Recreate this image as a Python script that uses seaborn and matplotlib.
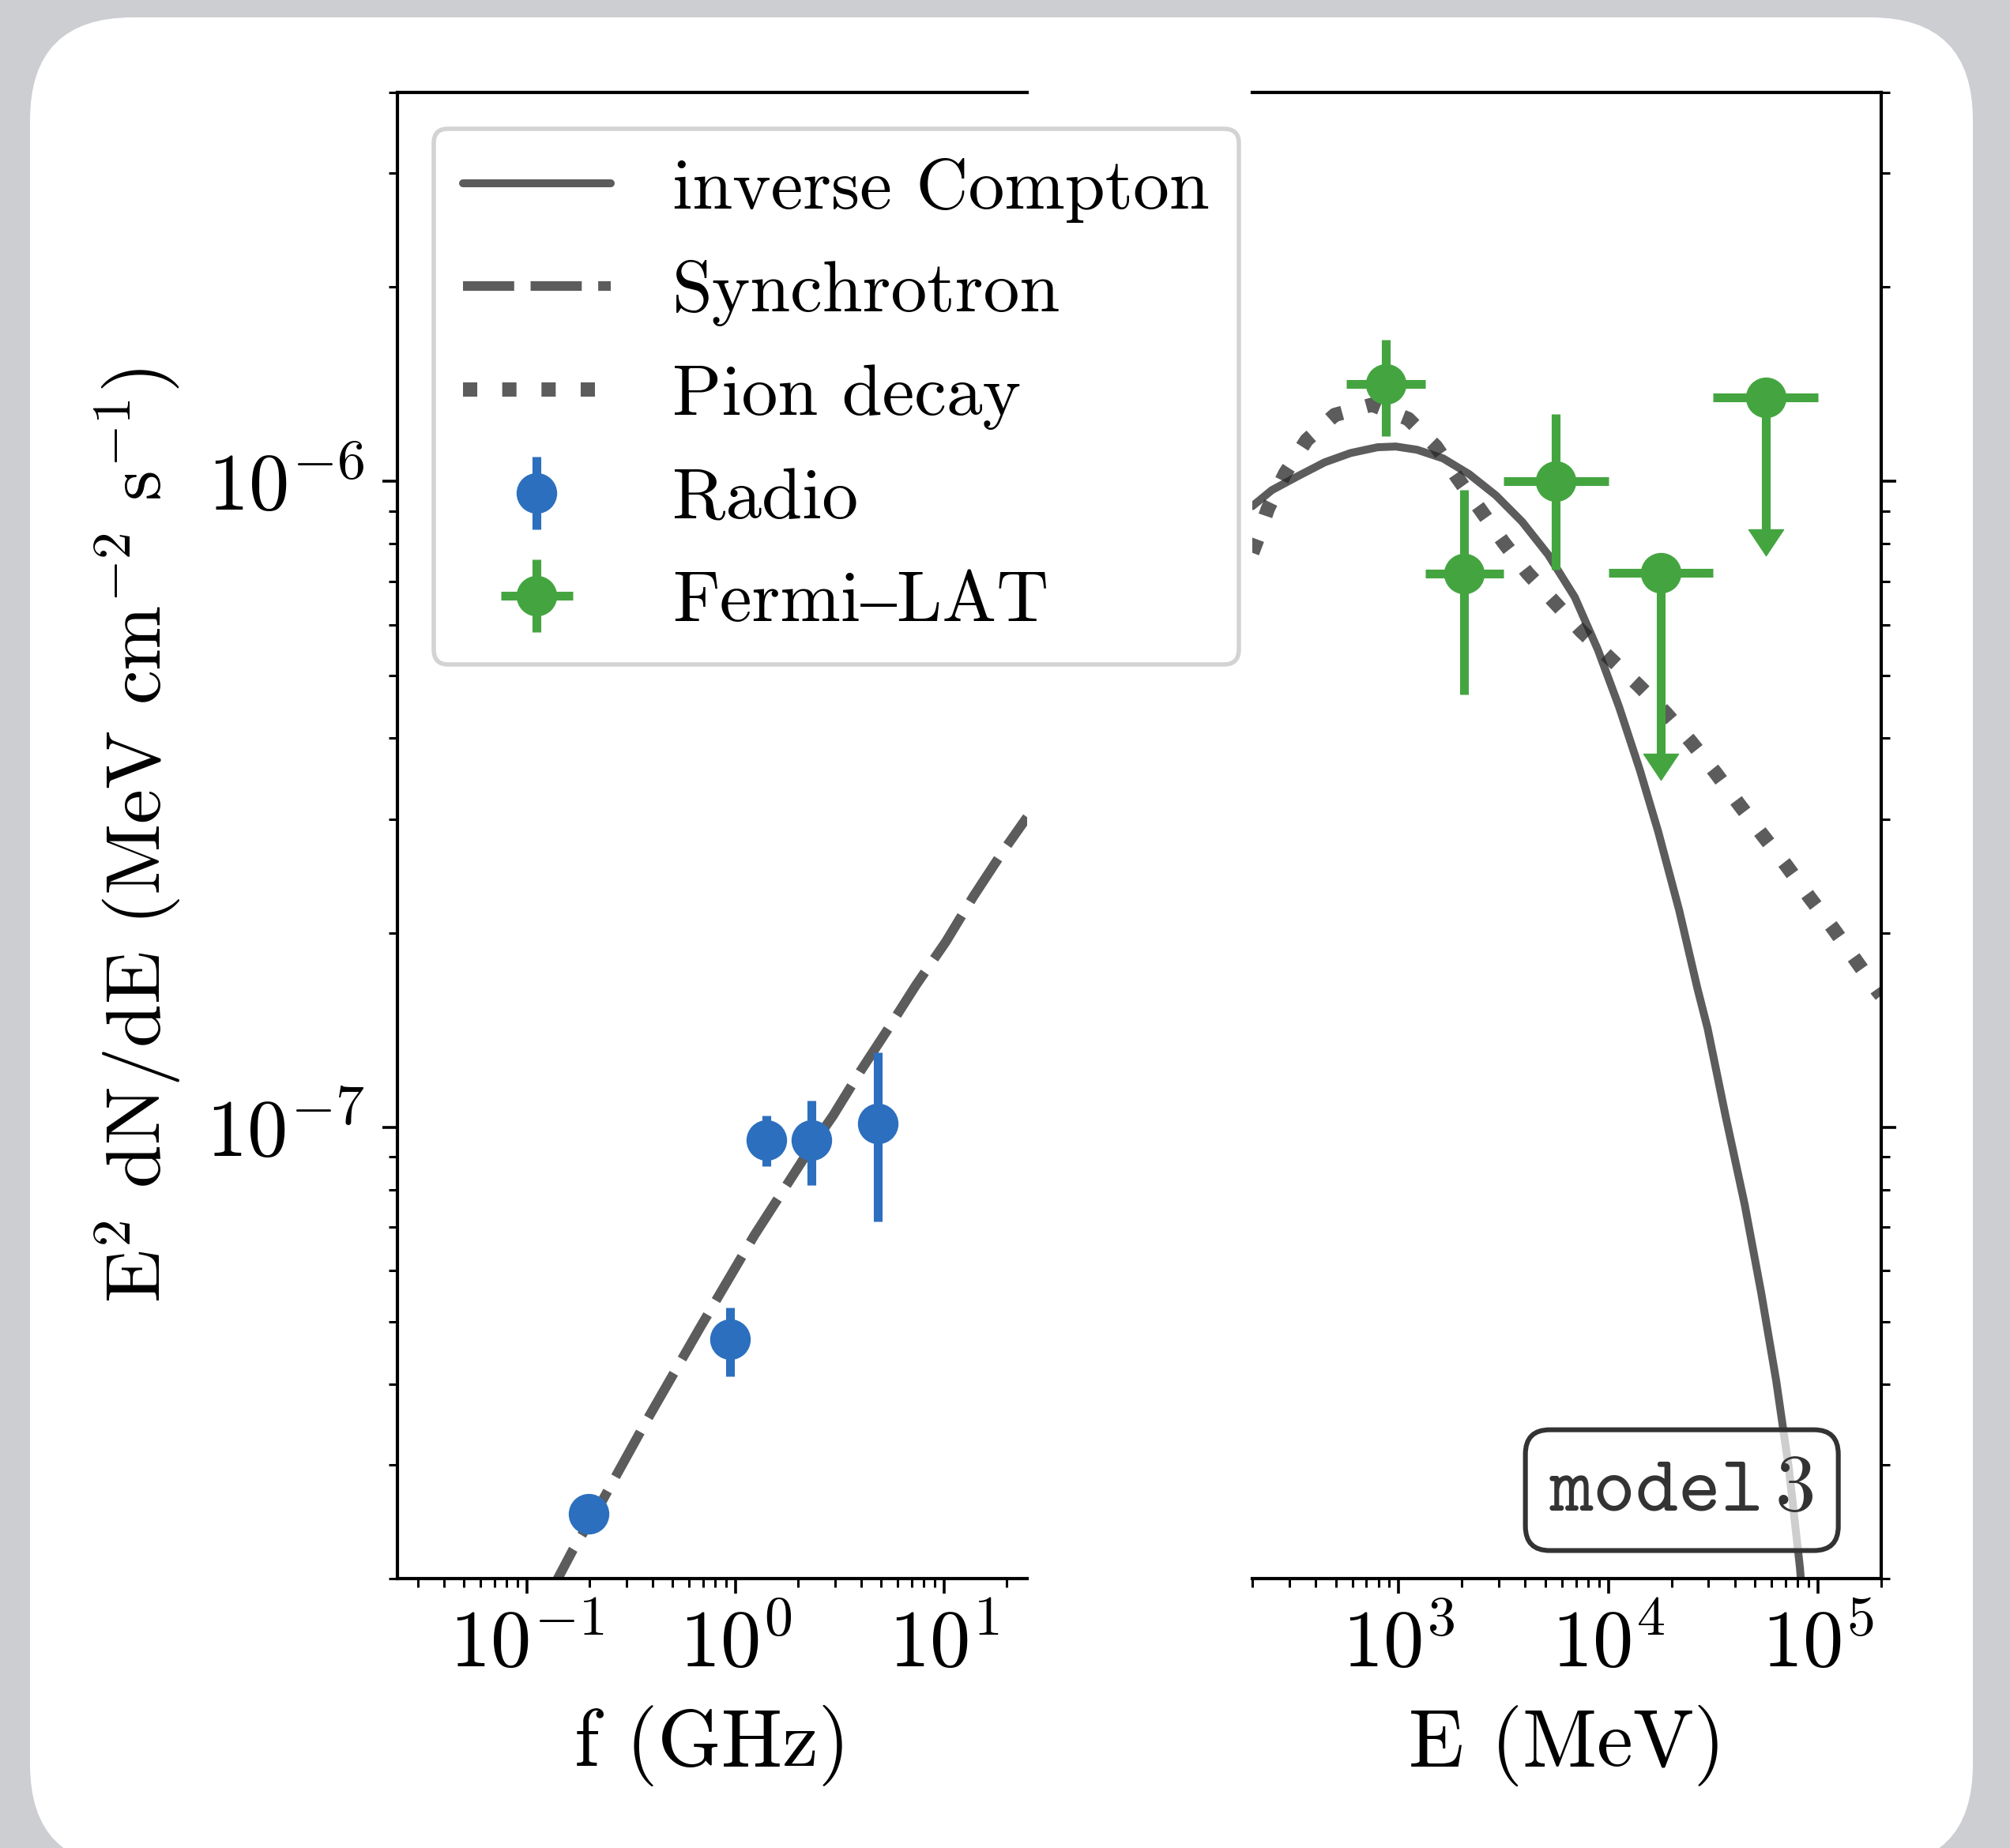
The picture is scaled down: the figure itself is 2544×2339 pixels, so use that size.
import matplotlib
matplotlib.use("Agg")
import numpy as np
import pandas as pd
import matplotlib.pyplot as plt
import seaborn as sns
from matplotlib.patches import FancyBboxPatch

# ---------------- data ----------------
# Radio points: frequency (GHz), E^2 dN/dE and error bounds
radio_f = [0.198, 0.94, 1.41, 2.31, 4.83]
radio_v = [2.52e-8, 4.69e-8, 9.54e-8, 9.54e-8, 1.012e-7]
radio_hi = [2.52e-8, 5.25e-8, 1.041e-7, 1.098e-7, 1.306e-7]
radio_lo = [2.52e-8, 4.11e-8, 8.69e-8, 8.13e-8, 7.15e-8]

# Fermi-LAT points: energy (MeV), bin edges, flux, bounds, upper-limit flag
fermi_E = [866, 2054, 5623, 17783, 56234]
fermi_Elo = [562, 1334, 3162, 10000, 31623]
fermi_Ehi = [1334, 3162, 10000, 31623, 100000]
fermi_v = [1.416e-6, 7.19e-7, 1.001e-6, 7.21e-7, 1.350e-6]
fermi_vhi = [1.658e-6, 9.69e-7, 1.272e-6, 7.21e-7, 1.350e-6]
fermi_vlo = [1.176e-6, 4.68e-7, 7.29e-7, 3.79e-7, 8.42e-7]
fermi_ul = [False, False, False, True, True]

# Synchrotron model (left panel)
sync_f = [0.128, 0.140, 0.167, 0.226, 0.371, 0.676, 1.232, 2.246, 2.943,
          3.954, 5.41, 7.34, 10.2, 13.8, 18.9, 25.0]
sync_v = [1.89e-8, 1.993e-8, 2.22e-8, 2.612e-8, 3.49e-8, 4.89e-8, 6.80e-8,
          9.19e-8, 1.043e-7, 1.218e-7, 1.422e-7, 1.660e-7, 1.937e-7,
          2.275e-7, 2.656e-7, 3.02e-7]

# Inverse Compton model (right panel)
ic_E = [200, 248, 333, 443, 589, 791, 966, 1221, 1626, 2163, 2904, 3870,
        5153, 6900, 8913, 11220, 14125, 17240, 21730, 26610, 29710, 36250,
        44640, 53580, 63100, 72560, 81900, 86000]
ic_v = [9.15e-7, 9.69e-7, 1.020e-6, 1.070e-6, 1.106e-6, 1.129e-6, 1.132e-6,
        1.119e-6, 1.085e-6, 1.026e-6, 9.51e-7, 8.66e-7, 7.70e-7, 6.62e-7,
        5.48e-7, 4.48e-7, 3.57e-7, 2.873e-7, 2.168e-7, 1.636e-7, 1.422e-7,
        1.038e-7, 7.59e-8, 5.53e-8, 4.05e-8, 2.96e-8, 2.08e-8, 1.70e-8]

# Pion decay model (right panel)
pion_E = [200, 212, 237, 287, 363, 495, 745, 1109, 1503, 1916, 2464, 3170,
          4111, 5521, 7413, 10040, 13840, 18750, 24750, 32370, 41980, 54450,
          70630, 90890, 118000, 151700, 191600, 200000]
pion_v = [7.75e-7, 8.15e-7, 9.06e-7, 1.029e-6, 1.158e-6, 1.267e-6, 1.314e-6,
          1.249e-6, 1.132e-6, 1.009e-6, 9.01e-7, 8.03e-7, 7.21e-7, 6.50e-7,
          5.86e-7, 5.34e-7, 4.84e-7, 4.38e-7, 3.95e-7, 3.54e-7, 3.16e-7,
          2.83e-7, 2.54e-7, 2.27e-7, 2.03e-7, 1.81e-7, 1.627e-7, 1.60e-7]

labels_order = ["inverse Compton", "Synchrotron", "Pion decay", "Radio", "Fermi\u2013LAT"]

# ---------------- style ----------------
sns.set_theme(style="ticks")
plt.rcParams.update({
    "font.family": ["cmr10", "STIXGeneral", "DejaVu Serif"],
    "mathtext.fontset": "cm",
    "mathtext.default": "rm",
    "axes.formatter.use_mathtext": True,
    "axes.unicode_minus": True,
    "axes.linewidth": 1.5,
    "axes.edgecolor": "black",
    "axes.labelcolor": "black",
    "text.color": "black",
    "xtick.color": "black",
    "ytick.color": "black",
})

BLUE = "#2c6fbe"
GREEN = "#44a540"
LINE = "#262626"

W, H, DPI = 2544, 2339, 200
fig = plt.figure(figsize=(W / DPI, H / DPI), dpi=DPI, facecolor="#cdced2")

card = FancyBboxPatch((38 / DPI, (H - 2363) / DPI), (2497 - 38) / DPI, (2363 - 22) / DPI,
                      boxstyle="round,pad=0,rounding_size=0.65",
                      transform=fig.dpi_scale_trans, fc="white", ec="none", zorder=-5)
fig.add_artist(card)

axL = fig.add_axes([503 / W, 1 - 1998 / H, (1300 - 503) / W, (1998 - 117) / H])
axR = fig.add_axes([1585 / W, 1 - 1998 / H, (2381 - 1585) / W, (1998 - 117) / H])

for ax in (axL, axR):
    ax.set_facecolor("white")
    ax.set_xscale("log")
    ax.set_yscale("log")

# ---------------- left panel ----------------
sync_df = pd.DataFrame({"f": sync_f, "v": sync_v})
sns.lineplot(data=sync_df, x="f", y="v", ax=axL, color=LINE, alpha=0.75,
             linewidth=4.4, linestyle=(0, (5.3, 1.7)), label="Synchrotron",
             legend=False, sort=False, estimator=None, zorder=2)

rv = np.array(radio_v)
eb_radio = axL.errorbar(radio_f, radio_v,
                        yerr=[rv - np.array(radio_lo), np.array(radio_hi) - rv],
                        fmt="o", color=BLUE, ms=17.5, mec=BLUE, elinewidth=4,
                        capsize=0, label="Radio", zorder=3)

# ---------------- right panel ----------------
ic_df = pd.DataFrame({"E": ic_E, "v": ic_v})
sns.lineplot(data=ic_df, x="E", y="v", ax=axR, color=LINE, alpha=0.75,
             linewidth=3.6, linestyle="-", label="inverse Compton",
             legend=False, sort=False, estimator=None, zorder=2)
pion_df = pd.DataFrame({"E": pion_E, "v": pion_v})
sns.lineplot(data=pion_df, x="E", y="v", ax=axR, color=LINE, alpha=0.75,
             linewidth=6.5, linestyle=(0, (1, 1.75)), label="Pion decay",
             legend=False, sort=False, estimator=None, zorder=2)

fdf = pd.DataFrame({"E": fermi_E, "Elo": fermi_Elo, "Ehi": fermi_Ehi,
                    "v": fermi_v, "vlo": fermi_vlo, "vhi": fermi_vhi,
                    "ul": fermi_ul})
det = fdf[~fdf["ul"]]
ul = fdf[fdf["ul"]]
eb_fermi = axR.errorbar(det["E"], det["v"],
                        xerr=[det["E"] - det["Elo"], det["Ehi"] - det["E"]],
                        yerr=[det["v"] - det["vlo"], det["vhi"] - det["v"]],
                        fmt="o", color=GREEN, ms=17.5, mec=GREEN, elinewidth=4,
                        capsize=0, label="Fermi\u2013LAT", zorder=3)
eb_ul = axR.errorbar(ul["E"], ul["v"],
                     xerr=[ul["E"] - ul["Elo"], ul["Ehi"] - ul["E"]],
                     yerr=[ul["v"] - ul["vlo"], np.zeros(len(ul))],
                     uplims=True, fmt="o", color=GREEN, ms=17.5, mec=GREEN,
                     elinewidth=4, capsize=0, zorder=3)
arrow_head = np.array([[-1.0, 0.0], [1.0, 0.0], [0.0, -1.5], [-1.0, 0.0]])
for cap in eb_ul[1]:
    cap.set_marker(arrow_head)
    cap.set_markersize(23.8)
    cap.set_markerfacecolor(GREEN)
    cap.set_markeredgecolor(GREEN)
    cap.set_markeredgewidth(0.5)

# ---------------- axes cosmetics ----------------
axL.set_xlim(0.024, 25)
axR.set_xlim(200, 2e5)
for ax in (axL, axR):
    ax.set_ylim(2e-8, 4e-6)
    ax.tick_params(axis="both", which="major", direction="out", length=7,
                   width=1.3, labelsize=37)
    ax.tick_params(axis="both", which="minor", direction="out", length=4,
                   width=1.1)
    ax.tick_params(axis="x", which="major", pad=6.5)
    ax.tick_params(axis="y", which="major", pad=8)
    for s in ax.spines.values():
        s.set_linewidth(1.5)
        s.set_color("black")

axL.spines["right"].set_visible(False)
axR.spines["left"].set_visible(False)
axL.tick_params(axis="y", which="both", left=True, right=False)
axR.yaxis.tick_right()
axR.tick_params(axis="y", which="both", labelright=False, labelleft=False)
for ax in (axL, axR):
    ax.tick_params(axis="x", which="both", top=False, bottom=True)

axL.set_xlabel("f (GHz)", fontsize=37, labelpad=10)
axR.set_xlabel("E (MeV)", fontsize=37, labelpad=10)
axL.set_ylabel(r"E$^2$ dN/dE (MeV cm$^{-2}$ s$^{-1}$)", fontsize=35.5, labelpad=11)
axR.set_ylabel("")

# ---------------- legend ----------------
hL, lL = axL.get_legend_handles_labels()
hR, lR = axR.get_legend_handles_labels()
hmap = dict(zip(lL + lR, hL + hR))
leg = axL.legend([hmap[k] for k in labels_order], labels_order,
                 loc="upper left", fontsize=33, frameon=True, fancybox=True,
                 framealpha=0.85, edgecolor="#cccccc", handlelength=2.05,
                 handletextpad=0.85, labelspacing=0.52, borderpad=0.4)
leg.get_frame().set_linewidth(2.0)
leg.set_zorder(20)

# ---------------- "model 3" tag ----------------
axR.text(0.683, 0.0595, r"$\mathtt{model}\,\mathtt{3}$", transform=axR.transAxes,
         ha="center", va="center", fontsize=37, color="#333333", zorder=10,
         bbox=dict(boxstyle="round,pad=0.3,rounding_size=0.3",
                   fc=(1, 1, 1, 0.7), ec="#333333", lw=2.2))

fig.savefig("out.png", dpi=DPI, facecolor=fig.get_facecolor())
